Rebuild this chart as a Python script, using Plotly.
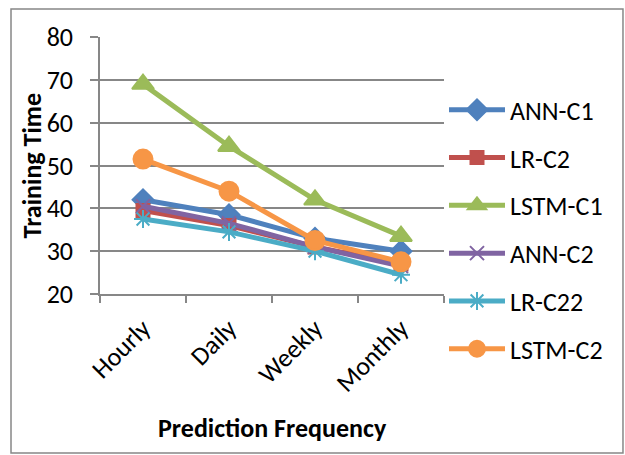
import plotly.graph_objects as go

categories = ["Hourly", "Daily", "Weekly", "Monthly"]

ann_c1 = [42, 38.5, 33, 30]
lr_c2 = [39.5, 36, 31, 27]
lstm_c1 = [69, 54.5, 42, 33.5]
ann_c2 = [40.5, 36.5, 31, 26.5]
lr_c22 = [37.5, 34.5, 30, 24.5]
lstm_c2 = [51.5, 44, 32.5, 27.5]

series = [
    ("ANN-C1", ann_c1, "#4F81BD", "diamond", 16),
    ("LR-C2", lr_c2, "#C0504D", "square", 13),
    ("LSTM-C1", lstm_c1, "#9BBB59", "triangle-up", 19),
    ("ANN-C2", ann_c2, "#8064A2", "x-thin-open", 14),
    ("LR-C22", lr_c22, "#4BACC6", "asterisk-open", 15),
    ("LSTM-C2", lstm_c2, "#F79646", "circle", 19),
]

FONT = "Carlito, Noto Sans"
FS = 26

fig = go.Figure()
for name, vals, color, symbol, size in series:
    fig.add_trace(go.Scatter(
        x=categories, y=vals, name=name, mode="lines+markers",
        line=dict(color=color, width=5),
        marker=dict(symbol=symbol, size=size, color=color,
                    line=dict(color=color, width=2)),
        legendgroup=name,
    ))

grid_color = "#878787"

fig.update_layout(
    width=625, height=455,
    margin=dict(l=100, r=181, t=37, b=161),
    paper_bgcolor="white", plot_bgcolor="white",
    font=dict(family=FONT, size=FS, color="black"),
    showlegend=True,
    legend=dict(x=1.0, y=0.808, xanchor="left", yanchor="top",
                font=dict(family=FONT, size=FS, color="black"),
                tracegroupgap=11, maxheight=360, itemwidth=56,
                bgcolor="rgba(0,0,0,0)"),
    xaxis=dict(
        type="category", showgrid=False, showline=True,
        linecolor=grid_color, linewidth=1.5,
        ticks="outside", ticklen=7, tickcolor=grid_color, tickwidth=1.5,
        tickson="boundaries", tickangle=-45, ticklabelstandoff=7,
        tickfont=dict(family=FONT, size=FS, color="black"),
        range=[-0.5, 3.5],
    ),
    yaxis=dict(
        range=[20, 80], dtick=10, showgrid=True, gridcolor=grid_color,
        gridwidth=1.5, showline=True, linecolor=grid_color, linewidth=1.5,
        ticks="outside", ticklen=8, tickcolor=grid_color, tickwidth=1.5,
        ticklabelstandoff=12, zeroline=False,
        tickfont=dict(family=FONT, size=FS, color="black"),
    ),
    annotations=[
        dict(text="<b>Prediction Frequency</b>", xref="paper", yref="paper",
             x=0.5, y=-0.521, xanchor="center", yanchor="middle",
             showarrow=False, font=dict(family=FONT, size=FS, color="black")),
        dict(text="<b>Training Time</b>", xref="paper", yref="paper",
             x=-0.198, y=0.5, xanchor="center", yanchor="middle",
             textangle=-90, showarrow=False,
             font=dict(family=FONT, size=FS, color="black")),
    ],
    shapes=[
        dict(type="rect", xref="paper", yref="paper",
             x0=-0.2587, x1=1.5203, y0=-0.6187, y1=1.109,
             line=dict(color="#878787", width=1.5), layer="below"),
    ],
)

fig.write_html("out.html")
